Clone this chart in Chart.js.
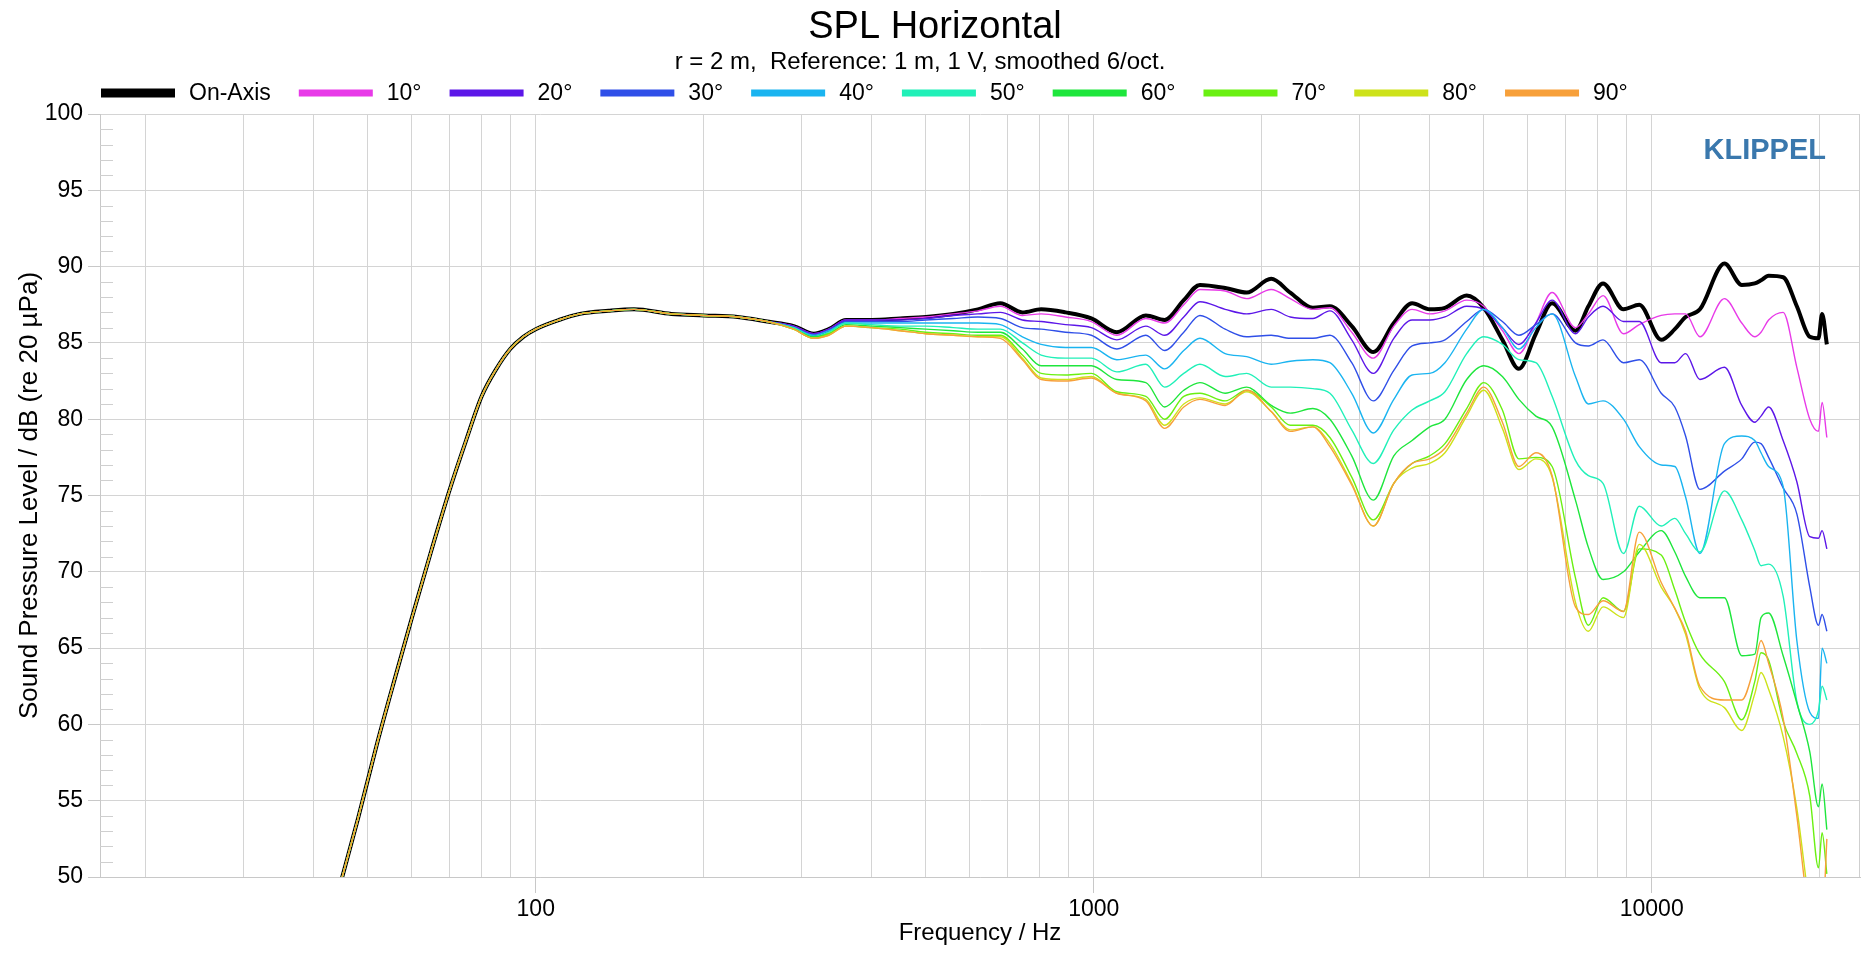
<!DOCTYPE html>
<html>
<head>
<meta charset="utf-8">
<title>SPL Horizontal</title>
<script src="https://cdn.jsdelivr.net/npm/chart.js@4.4.1/dist/chart.umd.min.js"></script>
<style>
  html, body { margin: 0; padding: 0; background: #fff; overflow: hidden; }
  #wrap { position: relative; width: 1861px; height: 956px; }
</style>
</head>
<body>
<div id="wrap"><canvas id="splChart"></canvas></div>
<script>
// frequency points in Hz, shared by every curve
const freqs = [42, 45, 48, 52, 56, 60, 65, 70, 75, 80, 85, 90, 95, 100, 110, 120, 135, 150, 175, 200, 230, 260,
  290, 315, 335, 360, 400, 450, 500, 560, 620,
  680, 745, 805,
  890, 990, 1100, 1240, 1340, 1450, 1550, 1720, 1880, 2080, 2250, 2470, 2650, 2900, 3170, 3450, 3720, 4000,
  4260, 4660, 5000, 5400, 5780, 6200, 6630, 7300, 7700, 8180, 8900, 9500, 10400, 11000, 11500, 12200,
  13500, 14500, 15300, 15700, 16200, 17200, 18200, 19200, 19900, 20200, 20600];

// below 290 Hz all angles lie on top of each other
const lowSPL = [46.0, 50.0, 53.8, 58.8, 63.1, 67.0, 71.4, 75.3, 78.6, 81.5, 83.3, 84.6, 85.4, 85.9, 86.5, 86.9,
  87.1, 87.2, 86.9, 86.8, 86.7, 86.4];

const splOnAxis = lowSPL.concat([86.1, 85.6, 85.9, 86.5, 86.5, 86.6, 86.7, 86.9, 87.2,
  87.6, 87.0, 87.2,
  87.0, 86.6, 85.7, 86.8, 86.5, 87.8, 88.8, 88.6, 88.3, 89.2, 88.3, 87.3, 87.4, 86.1, 84.4, 86.3, 87.6, 87.2,
  87.3, 88.1, 87.3, 85.2, 83.3, 85.6, 87.6, 85.8, 87.4, 88.9, 87.2, 87.5, 85.2, 85.9, 86.7, 87.2,
  90.2, 88.8, 88.9, 89.1, 89.4, 89.3, 87.4, 85.4, 85.3, 86.9, 84.9]);
const spl10 = lowSPL.concat([86.1, 85.6, 85.9, 86.5, 86.5, 86.6, 86.7, 86.9, 87.1,
  87.4, 86.8, 86.9,
  86.7, 86.4, 85.5, 86.6, 86.3, 87.5, 88.5, 88.4, 87.9, 88.5, 87.9, 87.2, 87.3, 85.7, 84.0, 86.1, 87.2, 86.9,
  87.1, 87.8, 87.4, 85.8, 84.3, 86.3, 88.3, 86.0, 86.9, 88.1, 85.6, 86.2, 86.8, 86.9, 86.9, 85.4,
  87.9, 86.3, 85.4, 85.7, 86.5, 87.0, 83.4, 80.0, 79.2, 81.1, 78.8]);
const spl20 = lowSPL.concat([86.1, 85.6, 85.9, 86.5, 86.5, 86.5, 86.6, 86.8, 86.9,
  87.0, 86.5, 86.4,
  86.2, 86.0, 85.2, 86.1, 85.5, 86.7, 87.7, 87.2, 86.9, 87.2, 86.7, 86.6, 87.1, 85.2, 83.0, 85.3, 86.5, 86.5,
  86.7, 87.4, 87.2, 86.0, 84.9, 86.3, 87.8, 85.6, 86.7, 87.4, 86.4, 86.4, 83.7, 83.7, 84.3, 82.6,
  83.4, 80.9, 79.8, 80.2, 80.8, 78.6, 75.9, 72.3, 72.2, 72.7, 71.5]);
const spl30 = lowSPL.concat([86.0, 85.5, 85.8, 86.4, 86.4, 86.4, 86.5, 86.6, 86.7,
  86.6, 86.0, 85.9,
  85.7, 85.5, 84.6, 85.5, 84.5, 85.7, 86.8, 85.9, 85.4, 85.5, 85.3, 85.3, 85.5, 83.7, 81.2, 83.2, 84.8, 85.0,
  85.2, 86.4, 87.2, 86.4, 85.5, 86.2, 86.9, 85.0, 84.8, 85.2, 83.7, 83.9, 81.7, 80.8, 78.9, 75.4,
  76.6, 77.4, 78.5, 78.4, 77.5, 75.5, 73.8, 69.0, 66.5, 67.2, 66.1]);
const spl40 = lowSPL.concat([86.0, 85.5, 85.8, 86.3, 86.3, 86.3, 86.3, 86.3, 86.3,
  86.2, 85.4, 84.9,
  84.7, 84.7, 83.9, 84.2, 83.3, 84.5, 85.3, 84.3, 84.1, 83.6, 83.8, 83.9, 83.7, 81.7, 79.1, 81.3, 82.9, 83.0,
  83.7, 85.9, 87.2, 86.0, 84.6, 86.0, 86.9, 82.8, 81.0, 81.2, 80.0, 78.2, 77.0, 76.9, 74.9, 71.2,
  78.4, 78.9, 78.6, 77.8, 76.9, 75.6, 65.5, 60.8, 60.4, 65.0, 64.0]);
const spl50 = lowSPL.concat([86.0, 85.4, 85.7, 86.3, 86.2, 86.1, 86.1, 86.0, 85.9,
  85.9, 85.0, 84.2,
  84.0, 84.0, 83.1, 83.6, 82.1, 83.0, 83.6, 82.8, 83.0, 82.1, 82.1, 82.0, 81.7, 79.3, 77.1, 79.3, 80.6, 81.2,
  81.8, 84.3, 85.4, 84.9, 83.9, 83.7, 81.5, 77.3, 76.3, 75.8, 71.2, 74.3, 73.0, 73.5, 72.5, 71.3,
  75.3, 73.4, 71.4, 70.4, 70.5, 68.4, 61.5, 60.0, 60.9, 62.5, 61.6]);
const spl60 = lowSPL.concat([85.9, 85.4, 85.6, 86.2, 86.1, 86.0, 85.9, 85.8, 85.7,
  85.7, 84.6, 83.5,
  83.5, 83.5, 82.6, 82.4, 80.8, 81.9, 82.4, 81.7, 82.1, 80.9, 80.4, 80.7, 80.0, 77.6, 74.7, 77.6, 78.6, 79.5,
  80.0, 82.6, 83.5, 82.8, 81.3, 80.2, 79.5, 74.7, 71.6, 69.5, 70.0, 71.3, 72.7, 71.3, 69.7, 68.3,
  68.3, 64.5, 64.6, 67.0, 67.3, 64.5, 61.4, 58.2, 54.6, 56.1, 53.1]);
const spl70 = lowSPL.concat([85.9, 85.3, 85.6, 86.1, 86.0, 85.9, 85.7, 85.6, 85.5,
  85.5, 84.2, 83.0,
  82.9, 83.0, 81.8, 81.5, 80.0, 81.5, 81.7, 81.2, 81.9, 80.8, 79.6, 79.6, 78.8, 76.2, 73.4, 75.8, 77.1, 77.6,
  78.4, 80.7, 82.4, 80.6, 77.4, 77.5, 76.9, 69.6, 66.5, 68.3, 67.4, 71.5, 71.1, 68.8, 66.7, 64.6,
  62.8, 60.3, 62.8, 64.7, 64.2, 60.2, 58.1, 55.3, 50.6, 52.9, 50.2]);
const spl80 = lowSPL.concat([85.9, 85.3, 85.5, 86.1, 86.0, 85.8, 85.6, 85.5, 85.4,
  85.4, 84.0, 82.7,
  82.6, 82.8, 81.7, 81.3, 79.6, 81.0, 81.4, 81.0, 81.8, 80.5, 79.3, 79.5, 78.4, 75.8, 73.0, 75.8, 76.8, 77.1,
  77.8, 80.2, 81.9, 79.4, 76.7, 77.4, 76.2, 68.0, 66.1, 67.7, 67.0, 71.8, 69.0, 67.6, 65.9, 62.3,
  61.1, 59.6, 62.0, 63.4, 62.3, 59.2, 54.5, 48.0, 45.0, 44.0, 44.0]);
const spl90 = lowSPL.concat([85.9, 85.3, 85.5, 86.1, 86.0, 85.8, 85.6, 85.5, 85.4,
  85.3, 83.9, 82.6,
  82.5, 82.7, 81.7, 81.2, 79.4, 80.8, 81.3, 80.9, 81.9, 80.5, 79.2, 79.5, 78.2, 75.7, 73.0, 75.8, 77.1, 77.4,
  78.1, 80.4, 82.1, 79.8, 76.9, 77.8, 76.3, 67.7, 67.2, 68.1, 67.4, 72.6, 69.3, 67.6, 66.1, 62.5,
  61.6, 61.6, 63.9, 65.5, 64.0, 60.4, 54.0, 47.0, 44.5, 46.0, 52.5]);

const seriesLabels = ['On-Axis', '10°', '20°', '30°', '40°', '50°', '60°', '70°', '80°', '90°'];
const seriesValues = [splOnAxis, spl10, spl20, spl30, spl40, spl50, spl60, spl70, spl80, spl90];
const seriesColors = ['#000000', '#e83ae8', '#5c16e8', '#2f4fe8', '#1ab4f0', '#20f0b8',
  '#1ee63c', '#6af012', '#cde21a', '#f7a03a'];

// vertical grid lines and the ones that get a label
const xGridFreqs = [20, 30, 40, 50, 60, 70, 80, 90, 100, 200, 300, 400, 500, 600, 700, 800, 900,
  1000, 2000, 3000, 4000, 5000, 6000, 7000, 8000, 9000, 10000, 20000];
const xTickLabels = [100, 1000, 10000];

const chartTitle = 'SPL Horizontal';
const chartSubtitle = 'r = 2 m,  Reference: 1 m, 1 V, smoothed 6/oct.';
const fontFamily = "'Liberation Sans', Arial, sans-serif";

Chart.defaults.font.family = fontFamily;
Chart.defaults.color = '#000';

const datasets = seriesLabels.map((label, i) => ({
  label: label,
  data: freqs.map((f, k) => ({ x: f, y: seriesValues[i][k] })),
  borderColor: seriesColors[i],
  backgroundColor: seriesColors[i],
  borderWidth: i === 0 ? 4 : 1.4,
  fill: false,
  pointRadius: 0,
  order: i === 0 ? 20 : 10 - i
}));

// title, legend row, logo, minor ticks and right frame line
const headerPlugin = {
  id: 'header',
  beforeDatasetsDraw(chart) {
    const ctx = chart.ctx;
    const area = chart.chartArea;
    const yScale = chart.scales.y;
    ctx.save();
    ctx.strokeStyle = '#cfcfcf';
    ctx.lineWidth = 1;
    ctx.beginPath();
    for (let v = 51; v < 100; v++) {
      if (v % 5 === 0) continue;
      const y = Math.round(yScale.getPixelForValue(v)) + 0.5;
      ctx.moveTo(area.left, y);
      ctx.lineTo(area.left + 13, y);
    }
    ctx.moveTo(area.right - 0.5, area.top);
    ctx.lineTo(area.right - 0.5, area.bottom);
    ctx.stroke();
    ctx.restore();
  },
  afterDraw(chart) {
    const ctx = chart.ctx;
    const area = chart.chartArea;
    ctx.save();
    ctx.fillStyle = '#000';
    ctx.textAlign = 'center';
    ctx.textBaseline = 'middle';
    ctx.font = '38px ' + fontFamily;
    ctx.fillText(chartTitle, 935, 28);
    ctx.font = '24px ' + fontFamily;
    ctx.fillText(chartSubtitle, 920, 62);

    ctx.textAlign = 'left';
    ctx.font = '23px ' + fontFamily;
    let x = area.left + 1;
    chart.data.datasets.forEach(ds => {
      const h = ds.borderWidth > 2 ? 9 : 7;
      ctx.fillStyle = ds.borderColor;
      ctx.fillRect(x, 93 - h / 2, 74, h);
      ctx.fillStyle = '#000';
      ctx.fillText(ds.label, x + 88, 94);
      x += 88 + ctx.measureText(ds.label).width + 28;
    });

    ctx.font = 'bold 29px ' + fontFamily;
    ctx.fillStyle = '#3a78ad';
    ctx.textAlign = 'right';
    ctx.fillText('KLIPPEL', 1826, 151);
    ctx.restore();
  }
};

new Chart(document.getElementById('splChart'), {
  type: 'line',
  data: { datasets: datasets },
  options: {
    responsive: true,
    maintainAspectRatio: false,
    animation: false,
    layout: { padding: { top: 114, right: 1, bottom: 0, left: 0 } },
    elements: { line: { cubicInterpolationMode: 'monotone' } },
    plugins: {
      legend: { display: false },
      title: { display: false },
      tooltip: { enabled: false }
    },
    scales: {
      x: {
        type: 'logarithmic',
        min: 16.56,
        max: 23620,
        bounds: 'data',
        afterBuildTicks(scale) {
          scale.ticks = xGridFreqs.map(v => ({ value: v }));
        },
        afterFit(scale) { scale.height = 79; },
        ticks: {
          autoSkip: false,
          maxRotation: 0,
          padding: 3,
          font: { size: 23 },
          callback: v => xTickLabels.includes(v) ? String(v) : ''
        },
        grid: {
          color: '#d4d4d4',
          tickLength: 16,
          tickColor: c => (c.tick && xTickLabels.includes(c.tick.value)) ? '#c8c8c8' : 'rgba(0,0,0,0)'
        },
        border: { color: '#c8c8c8' },
        title: { display: true, text: 'Frequency / Hz', font: { size: 24 }, padding: { bottom: 8 } }
      },
      y: {
        min: 50,
        max: 100,
        afterFit(scale) { scale.width = 100; },
        ticks: { stepSize: 5, padding: 5, font: { size: 23 } },
        grid: { color: '#d4d4d4', tickLength: 12, tickColor: '#c8c8c8' },
        border: { color: '#c8c8c8' },
        title: {
          display: true,
          text: 'Sound Pressure Level / dB (re 20 µPa)',
          font: { size: 26 },
          padding: { top: 14 }
        }
      }
    }
  },
  plugins: [headerPlugin]
});
</script>
</body>
</html>
